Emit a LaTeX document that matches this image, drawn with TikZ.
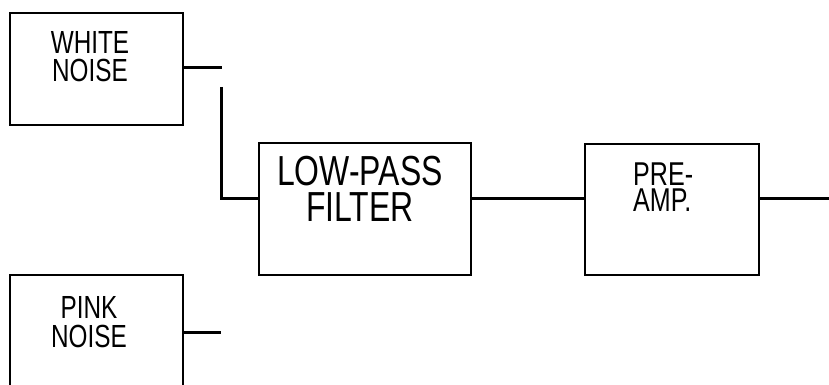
\documentclass[tikz,border=0pt]{standalone}
\usepackage{fontspec}
\newfontfamily\blockfont[FakeStretch=0.76]{Liberation Sans}
\begin{document}
\begin{tikzpicture}[x=1pt,y=-1pt,
  box/.style={draw=black,line width=2pt,minimum width=#1,inner sep=0pt},
  wire/.style={draw=black,line width=3pt},
  lbl/.style 2 args={inner sep=0pt,anchor=north,align=center,text=black,font=\blockfont\fontsize{#1}{#2}\selectfont},
  lbll/.style 2 args={inner sep=0pt,anchor=north west,align=left,text=black,font=\blockfont\fontsize{#1}{#2}\selectfont}]
\useasboundingbox (0,0) rectangle (829,385);
\clip (0,0) rectangle (829,385);
\fill[white] (0,0) rectangle (829,385);
% boxes
\node[box=173pt,minimum height=112pt] (wn) at (96.5,69) {};
\node[box=212pt,minimum height=132pt] (lp) at (365,209) {};
\node[box=174pt,minimum height=131pt] (pa) at (672,209.5) {};
\node[box=173pt,minimum height=130pt] (pn) at (96.5,340) {};
% labels
\node[lbl={32}{28}] (wnt) at (90,31) {WHITE\\NOISE};
\node[lbl={42}{36}] (lpt) at (360,156) {LOW-PASS\\FILTER};
\node[lbll={33}{26}] (pat) at (633,163) {PRE-\\AMP.};
\node[lbl={32}{29}] (pnt) at (89,296) {PINK\\NOISE};
% connector points
\coordinate (c1) at (222,68);
\coordinate (c2) at (221,87);
\coordinate (j) at (221,198);
\coordinate (out) at (829,198);
\coordinate (c3) at (221,332);
% connectors
\draw[wire] (wn.east |- c1) -- (c1);
\draw[wire] (c2) -- (j) -- (j -| lp.west);
\draw[wire] (lp.east |- j) -- (pa.west |- j);
\draw[wire] (pa.east |- j) -- (out);
\draw[wire] (pn.east |- c3) -- (c3);
\end{tikzpicture}
\end{document}
